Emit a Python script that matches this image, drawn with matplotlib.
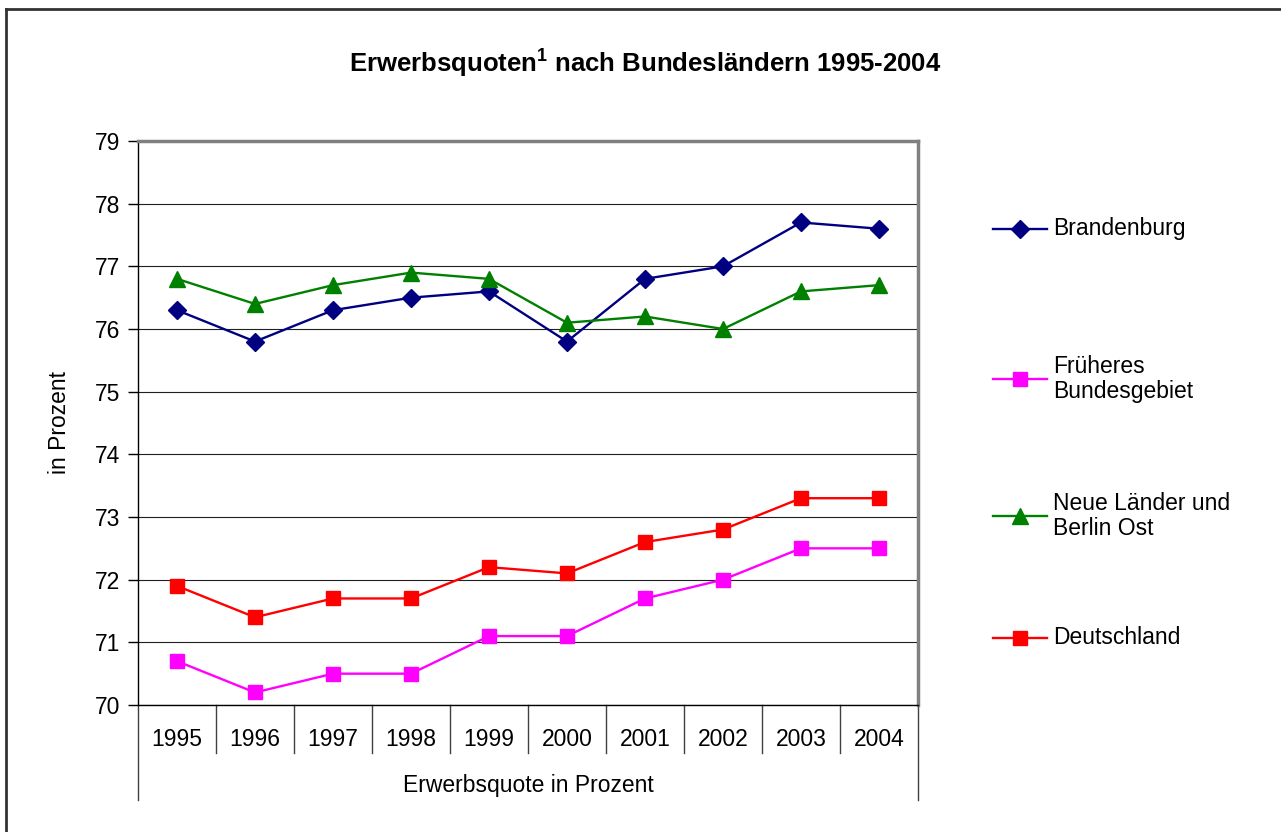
import matplotlib.pyplot as plt
from matplotlib.lines import Line2D
import matplotlib.transforms as mtransforms

plt.rcParams['font.family'] = ['Liberation Sans', 'DejaVu Sans']
plt.rcParams['mathtext.fontset'] = 'custom'
plt.rcParams['mathtext.rm'] = 'Liberation Sans'
plt.rcParams['mathtext.bf'] = 'Liberation Sans:bold'

# Data
years = ['1995', '1996', '1997', '1998', '1999', '2000', '2001', '2002', '2003', '2004']
brandenburg = [76.3, 75.8, 76.3, 76.5, 76.6, 75.8, 76.8, 77.0, 77.7, 77.6]
frueheres = [70.7, 70.2, 70.5, 70.5, 71.1, 71.1, 71.7, 72.0, 72.5, 72.5]
neue_laender = [76.8, 76.4, 76.7, 76.9, 76.8, 76.1, 76.2, 76.0, 76.6, 76.7]
deutschland = [71.9, 71.4, 71.7, 71.7, 72.2, 72.1, 72.6, 72.8, 73.3, 73.3]

series = [
    ('Brandenburg', brandenburg, '#000080', 'D', 9),
    ('Früheres\nBundesgebiet', frueheres, '#FF00FF', 's', 10),
    ('Neue Länder und\nBerlin Ost', neue_laender, '#008000', '^', 11),
    ('Deutschland', deutschland, '#FF0000', 's', 10),
]

FS = 16.5
W, H = 1281, 832
fig = plt.figure(figsize=(W / 100, H / 100), dpi=100)
ax = fig.add_axes([138 / W, 1 - 705 / H, 780 / W, 564 / H])

x = list(range(len(years)))
for label, vals, color, marker, ms in series:
    ax.plot(x, vals, color=color, lw=1.7, marker=marker, markersize=ms,
            markerfacecolor=color, markeredgecolor=color, zorder=3)

ax.set_xlim(-0.5, len(years) - 0.5)
ax.set_ylim(70, 79)
ax.set_yticks(range(70, 80))
ax.tick_params(axis='y', labelsize=FS, direction='out', length=7, width=1, color='black', pad=6)
ax.set_xticks([])
ax.grid(axis='y', color='#202020', lw=0.8)
ax.set_axisbelow(True)

for side in ['top', 'right']:
    ax.spines[side].set_color('#808080')
    ax.spines[side].set_linewidth(2.5)
ax.spines['left'].set_color('black')
ax.spines['bottom'].set_color('black')
ax.spines['left'].set_linewidth(1)
ax.spines['bottom'].set_linewidth(1)

fig.text(60 / W, 1 - 423 / H, 'in Prozent', rotation=90, ha='center', va='center', fontsize=FS)

# category axis: year labels with separators, group label below
trans = mtransforms.blended_transform_factory(ax.transData, ax.transAxes)
for i in range(len(years) + 1):
    bottom = -0.1684 if i in (0, len(years)) else -0.0851
    ax.plot([i - 0.5, i - 0.5], [0, bottom], color='#404040', lw=1,
            transform=trans, clip_on=False)
for i, yr in enumerate(years):
    ax.text(i, -0.0603, yr, transform=trans, ha='center', va='center', fontsize=FS)
ax.text(0.5, -0.142, 'Erwerbsquote in Prozent', transform=ax.transAxes,
        ha='center', va='center', fontsize=FS)

fig.text(645 / W, 1 - 63 / H, r'Erwerbsquoten$^{\mathbf{1}}$ nach Bundesländern 1995-2004',
         ha='center', va='center', fontsize=18.5, fontweight='bold')

# legend, drawn by hand to match the spacing
legend_y = [229, 379, 516, 638]
for (label, vals, color, marker, ms), ly in zip(series, legend_y):
    fy = 1 - ly / H
    fig.add_artist(Line2D([993 / W, 1047 / W], [fy, fy], color=color, lw=1.7))
    fig.add_artist(Line2D([1020 / W], [fy], color=color, marker=marker, markersize=ms,
                          markerfacecolor=color, markeredgecolor=color))
    fig.text(1053 / W, fy, label, ha='left', va='center', fontsize=FS, linespacing=1.15)

# outer chart border (only top and left visible)
fig.add_artist(Line2D([6 / W, 1], [1 - 9 / H, 1 - 9 / H], color='#333333', lw=2))
fig.add_artist(Line2D([6 / W, 6 / W], [0, 1 - 9 / H], color='#333333', lw=2))

fig.savefig('out.png', dpi=100, facecolor='white')
